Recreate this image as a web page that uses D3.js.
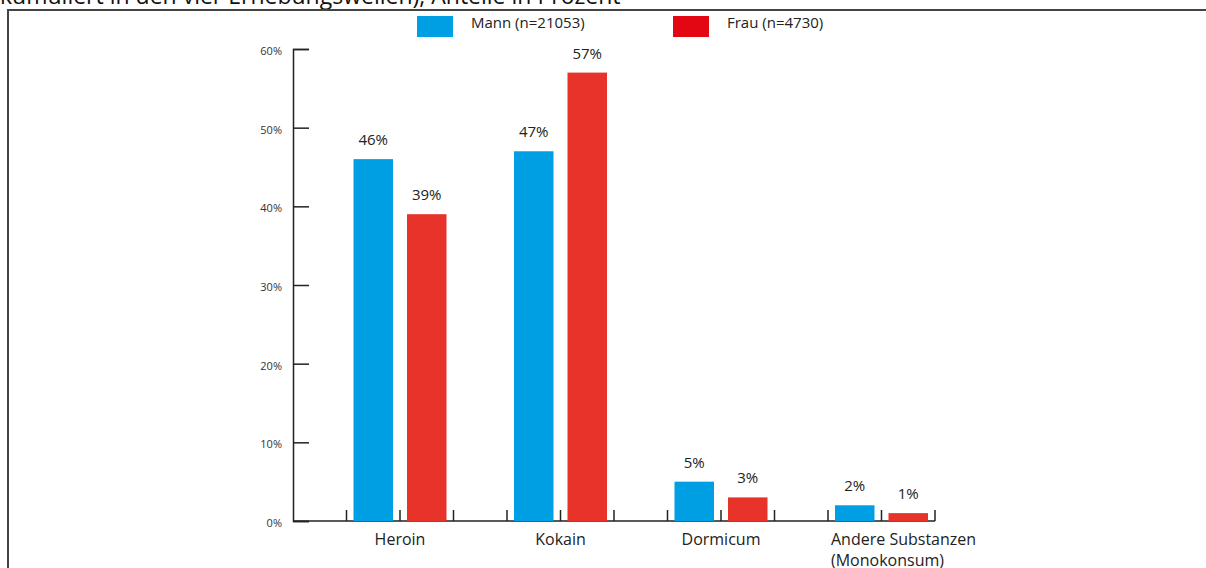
<!DOCTYPE html>
<html>
<head>
<meta charset="utf-8">
<script src="https://cdn.jsdelivr.net/npm/d3@7"></script>
<style>
  body { margin: 0; background: #fff; }
  svg { display: block; font-family: "Open Sans", sans-serif; }
</style>
</head>
<body>
<div id="chart"></div>
<script>
var svgWidth = 1206;
var svgHeight = 568;

// data
var categories = ["Heroin", "Kokain", "Dormicum", "Andere Substanzen (Monokonsum)"];
var categoryLines = [["Heroin"], ["Kokain"], ["Dormicum"], ["Andere Substanzen", "(Monokonsum)"]];
var seriesNames = ["Mann (n=21053)", "Frau (n=4730)"];
var mannValues = [46, 47, 5, 2];
var frauValues = [39, 57, 3, 1];
var yTickValues = [0, 10, 20, 30, 40, 50, 60];
var titleText = "kumuliert in den vier Erhebungswellen), Anteile in Prozent";

var blue = "#009fe3";
var red = "#e7332a";
var legendRed = "#e30613";

var svg = d3.select("#chart")
    .append("svg")
    .attr("width", svgWidth)
    .attr("height", svgHeight);

// title, cut off at the top like the reference
svg.append("text")
    .attr("x", 0)
    .attr("y", 4)
    .attr("font-size", 23)
    .attr("fill", "#111")
    .text(titleText);

// frame (top + left)
svg.append("path")
    .attr("d", "M8,568 V10 H1206")
    .attr("fill", "none")
    .attr("stroke", "#444")
    .attr("stroke-width", 2);

// scales
var x0 = d3.scaleBand()
    .domain(categories)
    .range([293, 935])
    .padding(0);

var x1 = d3.scaleBand()
    .domain(["gap", "Mann", "Frau"])
    .range([0, x0.bandwidth()])
    .padding(0);

var y = d3.scaleLinear()
    .domain([0, 60])
    .range([521, 49]);

// y axis
var leftAxis = d3.axisLeft(y)
    .tickValues(yTickValues)
    .tickFormat(d => d + "%")
    .tickSize(-16)
    .tickSizeOuter(-16)
    .tickPadding(11);

var yAxisG = svg.append("g")
    .attr("transform", "translate(293,0)")
    .call(leftAxis);
yAxisG.selectAll("line, path").attr("stroke", "#222").attr("stroke-width", 1.5);
yAxisG.selectAll("text")
    .attr("font-size", 11)
    .attr("fill", "#333")
    .attr("dy", "0.5em")
    .attr("font-family", "Open Sans, sans-serif");

// x axis line + ticks at bar slot boundaries
svg.append("line")
    .attr("x1", 293)
    .attr("x2", 935)
    .attr("y1", y(0))
    .attr("y2", y(0))
    .attr("stroke", "#222")
    .attr("stroke-width", 1.5);

var tickXs = [];
categories.forEach(function(c) {
    tickXs.push(x0(c) + x1("Mann"));
    tickXs.push(x0(c) + x1("Frau"));
    tickXs.push(x0(c) + x1("Frau") + x1.bandwidth());
});
svg.selectAll("line.xtick")
    .data(tickXs)
    .enter()
    .append("line")
    .attr("class", "xtick")
    .attr("x1", d => d)
    .attr("x2", d => d)
    .attr("y1", y(0))
    .attr("y2", y(0) - 11)
    .attr("stroke", "#222")
    .attr("stroke-width", 1.5);

// bars
var pad = 7;
var rows = [];
categories.forEach(function(c, i) {
    rows.push({ cat: c, key: "Mann", value: mannValues[i], color: blue });
    rows.push({ cat: c, key: "Frau", value: frauValues[i], color: red });
});

var barGroup = svg.selectAll("g.bar")
    .data(rows)
    .enter()
    .append("g")
    .attr("class", "bar");

barGroup.append("rect")
    .attr("x", d => x0(d.cat) + x1(d.key) + pad)
    .attr("y", d => y(d.value))
    .attr("width", x1.bandwidth() - 2 * pad)
    .attr("height", d => y(0) - y(d.value))
    .attr("fill", d => d.color);

barGroup.append("text")
    .attr("x", d => x0(d.cat) + x1(d.key) + x1.bandwidth() / 2)
    .attr("y", d => y(d.value) - 14)
    .attr("text-anchor", "middle")
    .attr("font-size", 15)
    .attr("fill", "#222")
    .text(d => d.value + "%");

// category labels
categories.forEach(function(c, i) {
    var lines = categoryLines[i];
    var cx = x0(c) + x1("Mann") + x1.bandwidth();
    var t = svg.append("text")
        .attr("font-size", 16)
        .attr("fill", "#222");
    if (lines.length > 1) {
        t.attr("text-anchor", "start");
        cx = x0(c) + x1("Mann") + 3;
    } else {
        t.attr("text-anchor", "middle");
    }
    lines.forEach(function(l, j) {
        t.append("tspan")
            .attr("x", cx)
            .attr("y", 545 + j * 21)
            .text(l);
    });
});

// legend
var legendX = [417, 673];
var legendColors = [blue, legendRed];
seriesNames.forEach(function(name, i) {
    svg.append("rect")
        .attr("x", legendX[i])
        .attr("y", 16)
        .attr("width", 36)
        .attr("height", 21)
        .attr("fill", legendColors[i]);
    svg.append("text")
        .attr("x", legendX[i] + 54)
        .attr("y", 28)
        .attr("font-size", 15)
        .attr("fill", "#222")
        .text(name);
});
</script>
</body>
</html>
